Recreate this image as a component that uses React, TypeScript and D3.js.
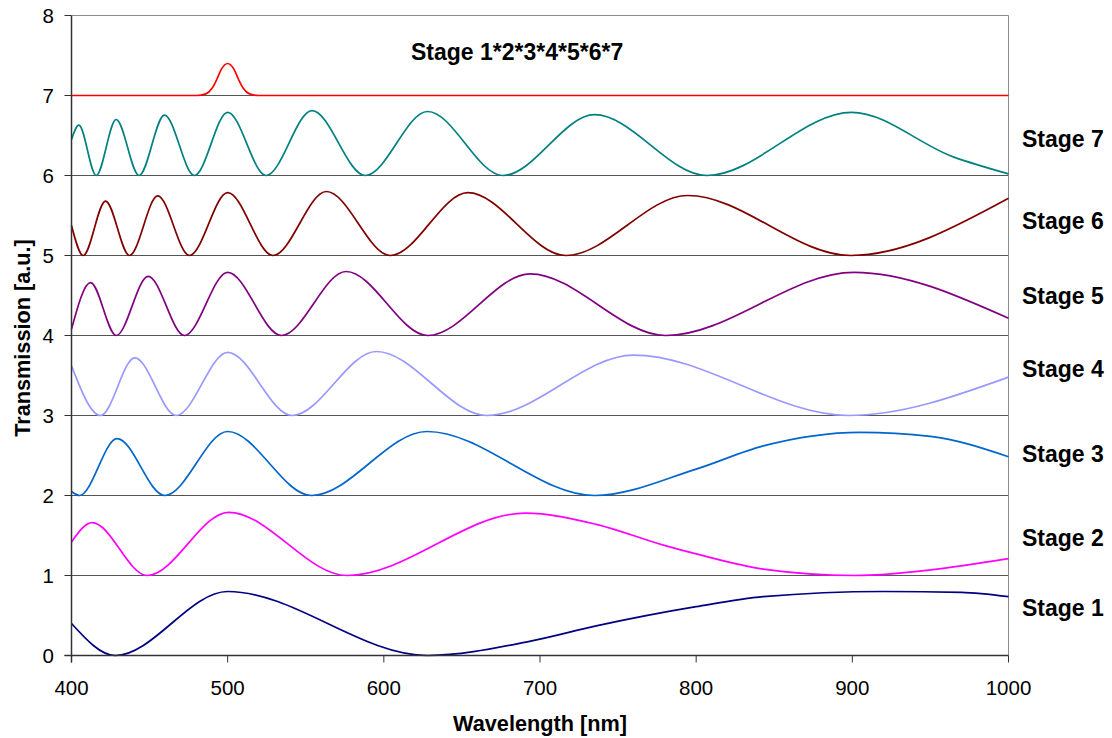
import React from 'react';
import * as d3 from 'd3';

type Pt = [number, number];

// values: [wavelength nm, transmission a.u. incl. stage offset]
// mostly the turning points, plus extra readings on the long, lopsided arcs
const stage1: Pt[] = [
  [400, 0.4], [428, 0.0], [500, 0.8], [628, 0.0], [694, 0.18], [736, 0.37], [800, 0.61],
  [843, 0.735], [920, 0.8], [970, 0.79], [1000, 0.735],
];
const stage2: Pt[] = [
  [400, 1.42], [413.2, 1.66], [448.4, 1.0], [500.6, 1.79], [576.4, 1.0], [690.5, 1.78],
  [736, 1.64], [779, 1.38], [800, 1.27], [843, 1.08], [901.7, 1.0], [950, 1.07], [1000, 1.21],
];
const stage3: Pt[] = [
  [400, 2.05], [405.1, 2.0], [429.2, 2.71], [459.7, 2.0], [500, 2.8], [553.6, 2.0],
  [627.6, 2.8], [735, 2.0], [800, 2.33], [843, 2.62], [905, 2.79], [950, 2.74], [1000, 2.485],
];
const stage4: Pt[] = [
  [400, 3.62], [418.6, 3.0], [440.5, 3.72], [467, 3.0], [500, 3.79], [541.2, 3.0],
  [595.2, 3.8], [666, 3.0], [759.9, 3.755], [897.6, 3.0], [1000, 3.48],
];
const stage5: Pt[] = [
  [400, 4.08], [412.2, 4.66], [428.6, 4.0], [449.1, 4.74], [472.3, 4.0], [500, 4.79],
  [534.4, 4.0], [575.8, 4.8], [628.1, 4.0], [693.7, 4.77], [780.5, 4.0], [901, 4.79],
  [1000, 4.215],
];
const stage6: Pt[] = [
  [400, 5.375], [407.5, 5.0], [421.8, 5.68], [437.1, 5.0], [455.2, 5.745], [475.5, 5.0],
  [500, 5.785], [529, 5.0], [563.2, 5.8], [604.1, 5.0], [653.8, 5.785], [716.6, 5.0],
  [794.6, 5.75], [898.9, 5.0], [1000, 5.715],
];
const stage7: Pt[] = [
  [400, 6.45], [404.7, 6.63], [415.8, 6.0], [428.6, 6.7], [443.3, 6.0], [459.5, 6.755],
  [478.7, 6.0], [500, 6.79], [524.6, 6.0], [554, 6.81], [588.1, 6.0], [628, 6.8],
  [676.2, 6.0], [734.9, 6.76], [806.8, 6.0], [899.6, 6.79], [965, 6.23], [1000, 6.02],
];
const product: Pt[] = [
  [400, 7.0], [480, 7.0], [486, 7.02], [490, 7.09], [493, 7.2], [496, 7.33], [500, 7.4],
  [504, 7.33], [507, 7.2], [510, 7.09], [514, 7.02], [520, 7.0], [1000, 7.0],
];

const seriesNames = ['Stage 1', 'Stage 2', 'Stage 3', 'Stage 4', 'Stage 5', 'Stage 6', 'Stage 7'];
const seriesData = [stage1, stage2, stage3, stage4, stage5, stage6, stage7];
const seriesColors = ['#000080', '#ff00ff', '#0066cc', '#9999ff', '#800080', '#800000', '#008080'];
const labelLevels = [0.49, 1.37, 2.42, 3.485, 4.39, 5.33, 6.36];
const productLabel = 'Stage 1*2*3*4*5*6*7';

const xTicks = [400, 500, 600, 700, 800, 900, 1000];
const yTicks = [0, 1, 2, 3, 4, 5, 6, 7, 8];

const W = 1112;
const H = 738;
const font = '"Liberation Sans", Arial, sans-serif';

export default function App() {
  const x = d3.scaleLinear().domain([400, 1000]).range([71.5, 1008.5]);
  const y = d3.scaleLinear().domain([0, 8]).range([655.5, 15.5]);

  // monotone keeps every turning point exactly where it was read
  const line = d3
    .line<Pt>()
    .x(d => x(d[0]))
    .y(d => y(d[1]))
    .curve(d3.curveMonotoneX);

  const [x0, x1] = x.range();

  return (
    <svg
      width={W}
      height={H}
      style={{ position: 'absolute', left: 0, top: 0, background: '#fff' }}
      fontFamily={font}
    >
      {/* gridlines */}
      {yTicks.filter(t => t > 0 && t < 8).map(t => (
        <line key={t} x1={x0} x2={x1} y1={y(t)} y2={y(t)} stroke="#555" strokeWidth={1} />
      ))}
      {/* plot border top + right */}
      <line x1={x0} x2={x1} y1={y(8)} y2={y(8)} stroke="#8c8c8c" strokeWidth={1} />
      <line x1={x1} x2={x1} y1={y(8)} y2={y(0)} stroke="#8c8c8c" strokeWidth={1} />

      {/* series */}
      {seriesData.map((d, i) => (
        <path key={i} d={line(d) ?? ''} fill="none" stroke={seriesColors[i]} strokeWidth={1.7} />
      ))}
      <path d={line(product) ?? ''} fill="none" stroke="#ff0000" strokeWidth={1.7} />

      {/* axes */}
      <line x1={x0} x2={x0} y1={y(8)} y2={y(0) + 7} stroke="#333" strokeWidth={1.5} />
      <line x1={x0 - 7} x2={x1} y1={y(0)} y2={y(0)} stroke="#333" strokeWidth={1.5} />
      {yTicks.map(t => (
        <g key={t}>
          <line x1={x0 - 7} x2={x0} y1={y(t)} y2={y(t)} stroke="#333" strokeWidth={1} />
          <text x={54} y={y(t)} dy="0.36em" textAnchor="end" fontSize={20.5} fill="#000">
            {t}
          </text>
        </g>
      ))}
      {xTicks.map(t => (
        <g key={t}>
          <line x1={x(t)} x2={x(t)} y1={y(0)} y2={y(0) + 7} stroke="#333" strokeWidth={1} />
          <text x={x(t)} y={695} textAnchor="middle" fontSize={20.5} fill="#000">
            {t}
          </text>
        </g>
      ))}

      {/* labels */}
      {seriesNames.map((n, i) => (
        <text key={n} x={1022} y={y(labelLevels[i])} fontSize={23} fontWeight="bold" fill="#000">
          {n}
        </text>
      ))}
      <text x={411} y={60} fontSize={23} fontWeight="bold" fill="#000">
        {productLabel}
      </text>

      <text x={(x0 + x1) / 2} y={731} textAnchor="middle" fontSize={21.7} fontWeight="bold" fill="#000">
        Wavelength [nm]
      </text>
      <text
        transform="translate(29.5,338) rotate(-90)"
        textAnchor="middle"
        fontSize={21.7}
        fontWeight="bold"
        fill="#000"
      >
        Transmission [a.u.]
      </text>
    </svg>
  );
}
